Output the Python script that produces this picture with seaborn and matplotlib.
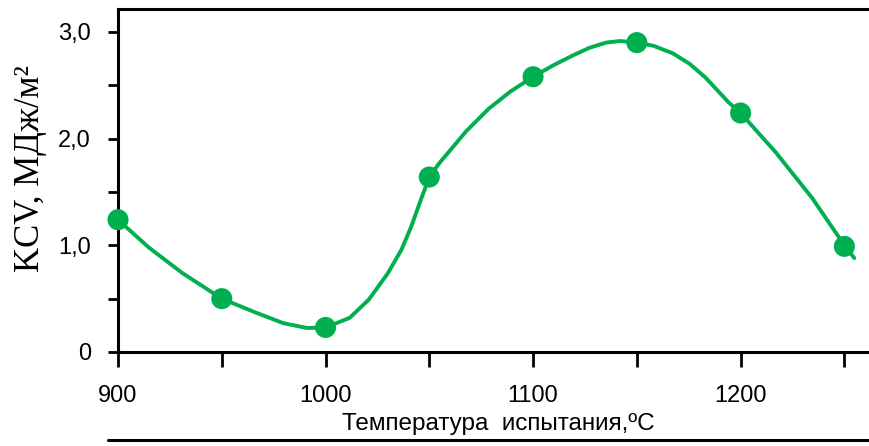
import numpy as np
import pandas as pd
import seaborn as sns
import matplotlib.pyplot as plt
from matplotlib.lines import Line2D

# measured points (temperature, KCV)
temps = [900, 950, 1000, 1050, 1100, 1150, 1200, 1250]
kcv = [1.24, 0.50, 0.23, 1.64, 2.58, 2.90, 2.24, 0.99]

# smooth trend line
curve_t = [900, 914.8, 931, 950, 966.3, 979.7, 991.1, 1000, 1011.6, 1020.8,
           1030.1, 1036.6, 1041.2, 1045.8, 1050, 1054.8, 1059.6, 1067.8, 1078.6,
           1089, 1100, 1110, 1119.2, 1127, 1135.1, 1142, 1150, 1158, 1167.3,
           1175.5, 1183.2, 1194.2, 1200, 1217, 1234.6, 1250, 1254.8]
curve_v = [1.24, 0.98, 0.74, 0.50, 0.37, 0.27, 0.225, 0.23, 0.32, 0.49,
           0.74, 0.96, 1.17, 1.42, 1.64, 1.77, 1.88, 2.07, 2.28,
           2.44, 2.58, 2.69, 2.78, 2.85, 2.90, 2.915, 2.90, 2.87, 2.80,
           2.70, 2.57, 2.34, 2.24, 1.87, 1.44, 1.00, 0.88]

xticks = [900, 950, 1000, 1050, 1100, 1150, 1200, 1250]
xtick_labels = ['900', '', '1000', '', '1100', '', '1200', '']
yticks = [0, 0.5, 1.0, 1.5, 2.0, 2.5, 3.0]
ytick_labels = ['0', '', '1,0', '', '2,0', '', '3,0']

GREEN = '#00B050'

sns.set_style("white")
plt.rcParams['font.family'] = ['Liberation Sans', 'DejaVu Sans']
plt.rcParams['text.color'] = 'black'
plt.rcParams['axes.labelcolor'] = 'black'
plt.rcParams['xtick.color'] = 'black'
plt.rcParams['ytick.color'] = 'black'

fig = plt.figure(figsize=(8.7, 4.46), dpi=100)
ax = fig.add_axes([118 / 870, 94 / 446, 1 - 118 / 870 + 0.01, 343 / 446])

df_curve = pd.DataFrame({'t': curve_t, 'v': curve_v})
df_pts = pd.DataFrame({'t': temps, 'v': kcv})

sns.lineplot(data=df_curve, x='t', y='v', ax=ax, color=GREEN, lw=2.8,
             sort=False, estimator=None, clip_on=False)
ax.lines[-1].set_solid_joinstyle('round')
sns.scatterplot(data=df_pts, x='t', y='v', ax=ax, color=GREEN, s=230,
                edgecolor='none', zorder=5, clip_on=False)

ax.set_xlim(900, 900 + 752 / 2.08 + 5)
ax.set_ylim(0, 3.215)

ax.set_xticks(xticks)
ax.set_xticklabels(xtick_labels, fontsize=17)
ax.set_yticks(yticks)
ax.set_yticklabels(ytick_labels, fontsize=17)
ax.tick_params(axis='x', direction='out', length=11, width=2, pad=13, bottom=True)
ax.tick_params(axis='y', direction='out', length=7.5, width=2, pad=12, left=True)

for s in ['left', 'bottom', 'top']:
    ax.spines[s].set_linewidth(2.2)
    ax.spines[s].set_color('black')
ax.spines['right'].set_visible(False)

ax.set_xlabel('Температура  испытания,ºC', fontsize=17.5, labelpad=4)
ax.set_ylabel('KCV, МДж/м²', fontsize=25, family='Liberation Serif')
ax.yaxis.set_label_coords(-0.093, 0.536)

# rule under the chart
fig.add_artist(Line2D([108 / 870, 1.0], [1 - 440 / 446, 1 - 440 / 446],
                      color='black', lw=2.2))

fig.savefig('out.png', dpi=100)
